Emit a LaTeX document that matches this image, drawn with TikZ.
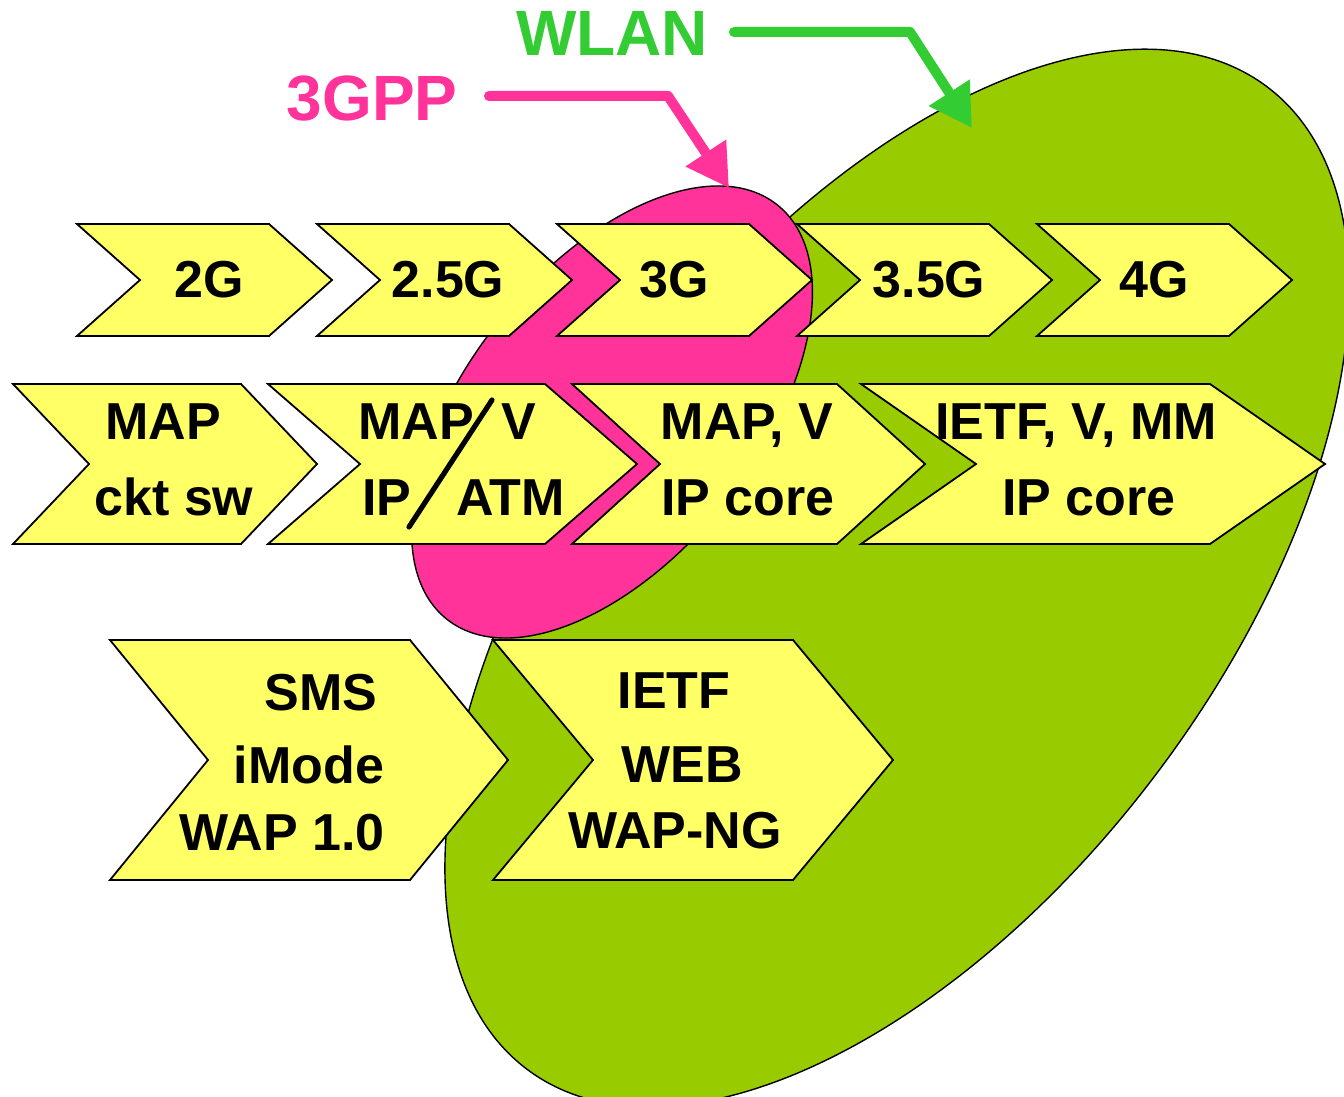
\documentclass[tikz,border=0pt]{standalone}
\usepackage{fontspec}
\setmainfont{Liberation Sans}
\usetikzlibrary{arrows.meta}
\definecolor{chevyellow}{HTML}{FFFF66}
\definecolor{wlangreen}{HTML}{99CC00}
\definecolor{gpppink}{HTML}{FF3399}
\definecolor{labelgreen}{HTML}{33CC33}
\newcommand\chevron[5]{%
  \draw[chev] (#1,#2) -- ++(#3,0) -- ++(#5,#4/2) -- ++(-#5,#4/2) -- ++(-#3,0) -- ++(#5,-#4/2) -- cycle;}
\begin{document}
\begin{tikzpicture}[x=0.5pt,y=-0.5pt,
  chev/.style={draw=black, line width=0.9pt, fill=chevyellow, line join=miter},
  lbl/.style={font=\fontsize{26}{30}\selectfont\bfseries, anchor=base, inner sep=0pt},
  big/.style={font=\fontsize{32}{36}\selectfont\bfseries, anchor=base, inner sep=0pt},
  fat/.style={line width=5pt, line cap=round, line join=round, -{Triangle[length=21pt,width=23pt]}}
]
\useasboundingbox (0,0) rectangle (1344,1097);
\clip (0,0) rectangle (1344,1097);
% ellipses
\draw[fill=wlangreen, line width=0.7pt, shift={(897,578)}, rotate=53] (0,0) ellipse [x radius=307.5pt, y radius=162.5pt];
\draw[fill=gpppink, line width=0.7pt, shift={(612,412)}, rotate=51.4] (0,0) ellipse [x radius=132.5pt, y radius=72.5pt];
% row 1
\chevron{77}{224}{192}{112}{63}
\chevron{317}{224}{192}{112}{63}
\chevron{557}{224}{192}{112}{63}
\chevron{797}{224}{192}{112}{63}
\chevron{1037}{224}{192}{112}{63}
% row 2
\chevron{13}{384}{228}{160}{76}
\chevron{268}{384}{277}{160}{92}
\chevron{572}{384}{265}{160}{88}
\chevron{861}{384}{349}{160}{115}
% row 3
\chevron{110}{640}{300}{240}{98}
\chevron{493}{640}{300}{240}{100}
% slash
\draw[line width=2.6pt, line cap=round] (492,400) -- (409,527);
% row 1 text
\node[lbl] (g2) at (209,297) {2G};
\node[lbl] (g25) at (448,297) {2.5G};
\node[lbl] (g3) at (674,297) {3G};
\node[lbl] (g35) at (929,297) {3.5G};
\node[lbl] (g4) at (1154,297) {4G};
% row 2 text
\node[lbl] (m1a) at (163,439) {MAP};
\node[lbl] (m1b) at (174,515) {ckt sw};
\node[lbl] (m2a) at (447.5,439) {MAP\hspace{14pt}V};
\node[lbl] (m2b) at (463.5,515) {IP\hspace{22.5pt}ATM};
\node[lbl] (m3a) at (747,439) {MAP, V};
\node[lbl] (m3b) at (748,515) {IP core};
\node[lbl] (m4a) at (1076,439) {IETF, V, MM};
\node[lbl] (m4b) at (1089,515) {IP core};
% row 3 text
\node[lbl] (s1a) at (321,710) {SMS};
\node[lbl] (s1b) at (309,783) {iMode};
\node[lbl] (s1c) at (282,850) {WAP 1.0};
\node[lbl] (s2a) at (674,708) {IETF};
\node[lbl] (s2b) at (682,782) {WEB};
\node[lbl] (s2c) at (675,848) {WAP-NG};
% labels and arrows
\node[big, text=gpppink] (gpp) at (372,121) {3GPP};
\node[big, text=labelgreen] (wlan) at (612,56) {WLAN};
\coordinate (gs) at (489,96);
\coordinate (gc) at (668,96);
\coordinate (gt) at (729,188);
\coordinate (ws) at (734,32);
\coordinate (wc) at (910,32);
\coordinate (wt) at (972,128);
\draw[fat, draw=gpppink] (gs) -- (gc) -- (gt);
\draw[fat, draw=labelgreen] (ws) -- (wc) -- (wt);
\end{tikzpicture}
\end{document}
